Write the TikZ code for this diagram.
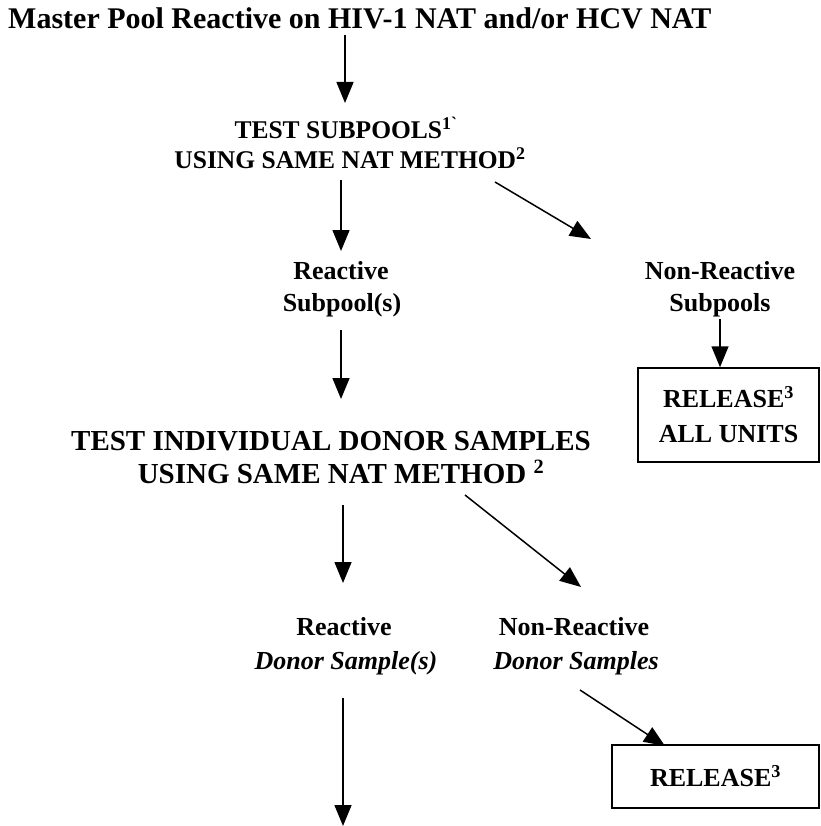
\documentclass[tikz,border=0pt]{standalone}
\usepackage{fontspec}
\setmainfont{Liberation Serif}
\newfontfamily\gravefont{Liberation Serif}[Ligatures=TeXOff]
\usetikzlibrary{arrows.meta}
\begin{document}
\begin{tikzpicture}[x=1pt,y=-1pt,
  txt/.style={font=\fontsize{26}{30}\selectfont\bfseries, inner sep=0pt, anchor=base},
  mid/.style={txt, font=\fontsize{25.5}{30}\selectfont\bfseries},
  big/.style={txt, font=\fontsize{29}{33}\selectfont\bfseries},
  flow/.style={line width=1.5pt, -{Triangle[width=17pt,length=21pt]}},
  boxed/.style={draw, line width=1.5pt, inner sep=0pt, align=center,
    font=\fontsize{26}{35}\selectfont\bfseries}]
\useasboundingbox (0,0) rectangle (820,826);

% heading
\node[txt, anchor=base west, font=\fontsize{30}{36}\selectfont\bfseries] (title) at (8,29) {Master Pool Reactive on HIV-1 NAT and/or HCV NAT};

% first test stage
\node[mid] (sub1) at (346,139) {TEST SUBPOOLS\textsuperscript{1{\gravefont`}}};
\node[mid] (sub2) at (350,169) {USING SAME NAT METHOD\textsuperscript{2}};
\node[txt] (rs1) at (341,279) {Reactive};
\node[txt] (rs2) at (342,311) {Subpool(s)};
\node[txt] (ns1) at (720,279) {Non-Reactive};
\node[txt] (ns2) at (720,311) {Subpools};
\node[boxed, minimum width=181pt, minimum height=94pt] (rel1) at (728.5,415) {RELEASE\textsuperscript{3}\\ALL UNITS};

% second test stage
\node[big] (ind1) at (331,450) {TEST INDIVIDUAL DONOR SAMPLES};
\node[big] (ind2) at (341,483) {USING SAME NAT METHOD \textsuperscript{2}};
\node[txt] (rd1) at (344,635) {Reactive};
\node[txt] (rd2) at (346,669) {\itshape Donor Sample(s)};
\node[txt] (nd1) at (574,635) {Non-Reactive};
\node[txt] (nd2) at (576,669) {\itshape Donor Samples};
\node[boxed, minimum width=207pt, minimum height=63pt] (rel2) at (715.5,776.5) {RELEASE\textsuperscript{3}};

% connector end points
\coordinate (a1s) at (345,35);
\coordinate (a1e) at (345,103);
\coordinate (a2s) at (341,180);
\coordinate (a2e) at (341,251);
\coordinate (a3s) at (495,182);
\coordinate (a3e) at (591,239);
\coordinate (a4s) at (720,319);
\coordinate (a5s) at (341,330);
\coordinate (a5e) at (341,399);
\coordinate (a6s) at (343,505);
\coordinate (a6e) at (343,583);
\coordinate (a7s) at (465,495);
\coordinate (a7e) at (581,587);
\coordinate (a8s) at (580,690);
\coordinate (a8e) at (665,746);
\coordinate (a9s) at (343,698);
\coordinate (a9e) at (343,826);

\draw[flow] (a1s) -- (a1e);
\draw[flow] (a2s) -- (a2e);
\draw[flow] (a3s) -- (a3e);
\draw[flow] (a4s) -- (a4s |- rel1.north);
\draw[flow] (a5s) -- (a5e);
\draw[flow] (a6s) -- (a6e);
\draw[flow] (a7s) -- (a7e);
\draw[flow] (a8s) -- (a8e);
\draw[flow] (a9s) -- (a9e);
\end{tikzpicture}
\end{document}
